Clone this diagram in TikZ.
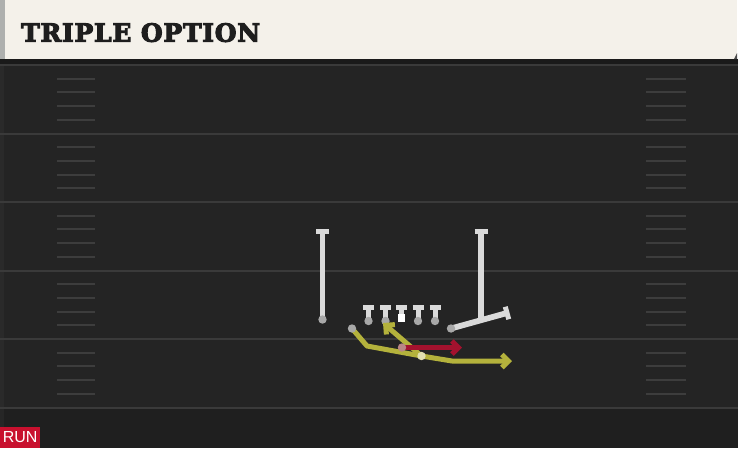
\documentclass[tikz,border=0pt]{standalone}
\usepackage{fontspec}
\usetikzlibrary{arrows.meta,calc}
\newfontfamily\titlefont[FakeBold=4,LetterSpace=3]{DejaVu Serif Bold}
\newfontfamily\runfont{Liberation Sans}
\definecolor{hdrbg}{HTML}{F4F1EA}
\definecolor{hdrstrip}{HTML}{AEB0AE}
\definecolor{fieldbg}{HTML}{242424}
\definecolor{fieldlow}{HTML}{1F1F1F}
\definecolor{shadowc}{HTML}{1A1A1A}
\definecolor{yardc}{HTML}{3A3A3A}
\definecolor{hashc}{HTML}{3D3D3D}
\definecolor{plyr}{HTML}{DADADA}
\definecolor{plydot}{HTML}{A8A8A8}
\definecolor{yelc}{HTML}{B4B23C}
\definecolor{redc}{HTML}{A3122E}
\definecolor{runc}{HTML}{C8102E}
\definecolor{titlec}{HTML}{1E1E1E}
\tikzset{
  yard/.style={draw=yardc, line width=2pt},
  hashm/.style={draw=hashc, line width=2pt},
  stem/.style={draw=plyr, line width=5.8pt},
  tbar/.style={draw=plyr, line width=5pt},
  pdot/.style={fill=plydot},
  yroute/.style={draw=yelc, line width=5pt, line join=round, -{Straight Barb[length=6.5pt,width=13pt]}},
  rroute/.style={draw=redc, line width=5pt, -{Straight Barb[length=6.5pt,width=13pt]}},
}
\begin{document}
\begin{tikzpicture}[x=1pt,y=-1pt]
\useasboundingbox (0,0) rectangle (738,448);
% field
\fill[fieldbg] (0,59) rectangle (738,448);
\fill[fieldlow] (0,408) rectangle (738,448);
\fill[shadowc] (0,59) rectangle (738,64);
\fill[fill=white, opacity=0.03] (0,64) rectangle (4,448);
% yard lines
\foreach \yy in {65,133.5,202,270.5,339,407.5} {
  \draw[yard] (0,\yy) -- (738,\yy);
}
% hash marks
\foreach \k in {0,...,4} {
  \foreach \j in {1,...,4} {
    \pgfmathsetmacro{\hy}{65+68.5*\k+13.7*\j}
    \draw[hashm] (57,\hy) -- (95,\hy);
    \draw[hashm] (646,\hy) -- (686,\hy);
  }
}
% header
\fill[hdrbg] (0,0) rectangle (737,59);
\fill[hdrstrip] (0,0) rectangle (5,59);
\fill[gray!60!black] (734,59) -- (737,53) -- (737,59) -- cycle;
\node[anchor=base west, inner sep=0, text=titlec, font=\titlefont\fontsize{25}{25}\selectfont] (title) at (21,41.7) {TRIPLE OPTION};
% RUN tag
\node[fill=runc, text=white, anchor=south west, inner sep=0, minimum width=40pt, minimum height=21pt, font=\runfont\fontsize{16}{16}\selectfont] (run) at (0,448) {RUN};

% ---- players ----
% left receiver
\coordinate (lrt) at (322.5,231.5);
\coordinate (lrb) at (322.5,319.5);
\draw[stem] (lrb) -- (lrt);
\draw[tbar] ([xshift=-6.5pt]lrt) -- ([xshift=6.5pt]lrt);
\fill[pdot] (lrb) circle (4.2pt);

% right receiver
\coordinate (rrt) at (481,231.5);
\coordinate (rrj) at (481,319.5);
\coordinate (rrs) at (451,328.5);
\coordinate (rre) at (507,313);
\draw[stem] (rrj) -- (rrt);
\draw[tbar] ([xshift=-6.5pt]rrt) -- ([xshift=6.5pt]rrt);
\draw[stem] (rrs) -- (rre);
\draw[tbar] ($(rre)!6.5pt!90:(rrs)$) -- ($(rre)!6.5pt!-90:(rrs)$);
\fill[pdot] (rrs) circle (4.2pt);

% linemen
\foreach \nm/\lx in {lt/368.5,lg/385.5,rg/418,rt/435} {
  \coordinate (\nm top) at (\lx,307.5);
  \coordinate (\nm) at (\lx,321);
  \draw[stem, line width=5pt] (\nm) -- (\nm top);
  \draw[tbar] ([xshift=-5.5pt]\nm top) -- ([xshift=5.5pt]\nm top);
  \fill[pdot] (\nm) circle (4.2pt);
}
% center
\coordinate (ctop) at (401.5,307.5);
\coordinate (c) at (401.5,318);
\draw[stem, line width=5pt] (c) -- (ctop);
\draw[tbar] ([xshift=-5.5pt]ctop) -- ([xshift=5.5pt]ctop);
\fill[white] ([xshift=-3.8pt,yshift=-3.8pt]c) rectangle ([xshift=3.8pt,yshift=3.8pt]c);

% ---- routes ----
\coordinate (qb) at (352,328.5);
\coordinate (q1) at (367,346);
\coordinate (pt) at (421.5,356);
\coordinate (q2) at (452,361);
\coordinate (qe) at (512,361);
\draw[yroute] (qb) -- (q1) -- (pt) -- (q2) -- (qe);
\coordinate (dv) at (383,323);
\draw[yroute] (pt) -- (dv);
\coordinate (fb) at (402,347.5);
\coordinate (fbe) at (462,347.5);
\draw[rroute] (fb) -- (fbe);
\fill[pdot] (qb) circle (4.2pt);
\fill[plydot!80!red] (fb) circle (4.2pt);
\fill[yelc!40!white] (pt) circle (4.2pt);
\end{tikzpicture}
\end{document}
